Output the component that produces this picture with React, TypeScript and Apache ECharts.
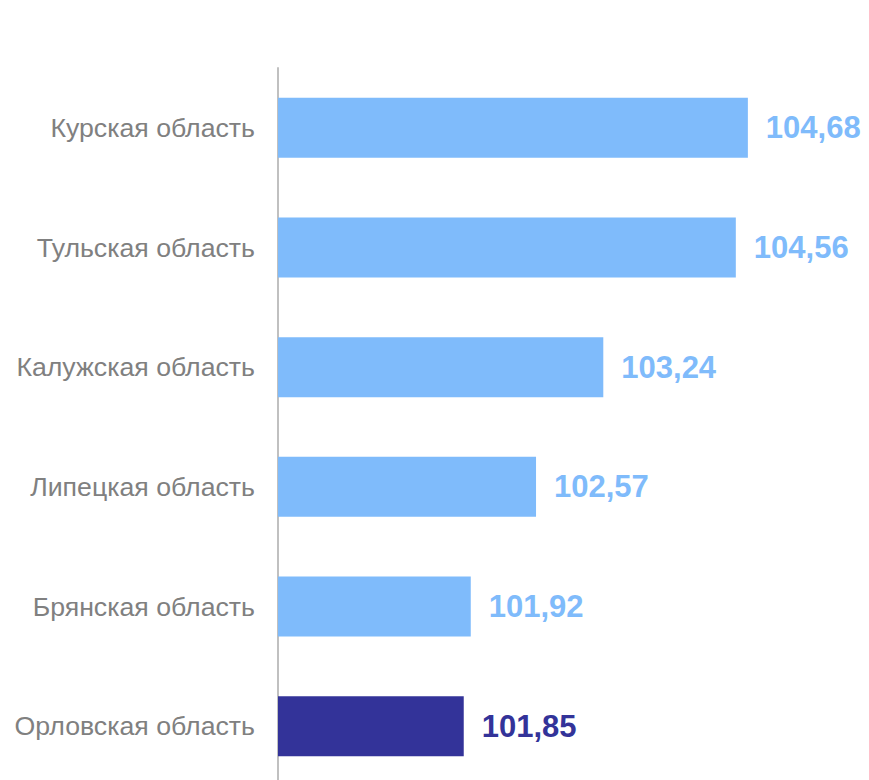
import React, { useEffect, useRef } from "react";
import * as echarts from "echarts";

const categories = [
  "Курская область",
  "Тульская область",
  "Калужская область",
  "Липецкая область",
  "Брянская область",
  "Орловская область",
];
const values = [104.68, 104.56, 103.24, 102.57, 101.92, 101.85];
const highlight = "Орловская область";

const LIGHT = "#7fbbfb";
const DARK = "#333399";

export default function App() {
  const ref = useRef<HTMLDivElement>(null);
  useEffect(() => {
    document.body.style.margin = "0";
    const chart = echarts.init(ref.current!, null, { renderer: "svg" });
    chart.setOption({
      animation: false,
      grid: { left: 278, top: 68, width: 502, height: 718, containLabel: false },
      xAxis: {
        type: "value",
        min: 100,
        max: 105,
        show: false,
      },
      yAxis: {
        type: "category",
        inverse: true,
        data: categories,
        axisLine: { show: true, lineStyle: { color: "#c0c0c0", width: 2 } },
        axisTick: { show: false },
        axisLabel: {
          color: "#808080",
          fontSize: 26.7,
          fontFamily: "Liberation Sans, Arial, sans-serif",
          margin: 23,
        },
      },
      series: [
        {
          type: "bar",
          barWidth: 60,
          data: values.map((v, i) => ({
            value: v,
            itemStyle: { color: categories[i] === highlight ? DARK : LIGHT },
            label: { color: categories[i] === highlight ? DARK : LIGHT },
          })),
          label: {
            show: true,
            position: "right",
            distance: 18,
            fontSize: 31,
            fontWeight: "bold",
            fontFamily: "Liberation Sans, Arial, sans-serif",
            formatter: (p: any) => p.value.toFixed(2).replace(".", ","),
          },
        },
      ],
    });
    return () => chart.dispose();
  }, []);
  return (
    <div style={{ width: 869, height: 780, overflow: "hidden" }}>
      <div ref={ref} style={{ width: 869, height: 800 }} />
    </div>
  );
}
